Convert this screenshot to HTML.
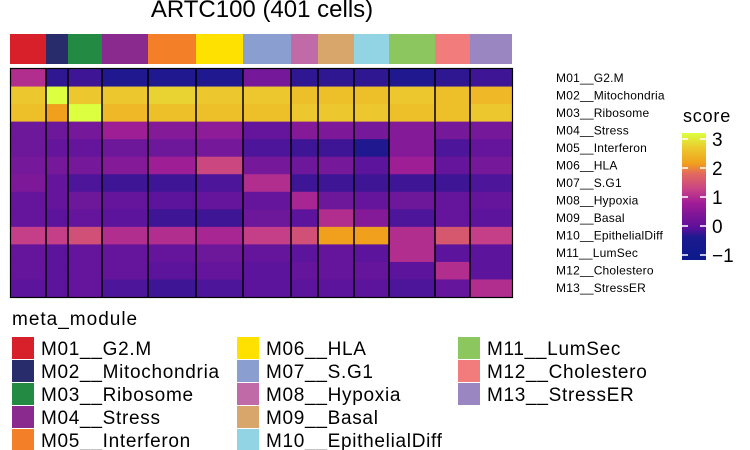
<!DOCTYPE html>
<html><head><meta charset="utf-8"><style>
body{margin:0;background:#fff;width:750px;height:450px;overflow:hidden;font-family:"Liberation Sans",sans-serif}
svg{display:block}
</style></head><body>
<svg id="c" width="750" height="450" xmlns="http://www.w3.org/2000/svg">
<defs><linearGradient id="cbg" x1="0" y1="1" x2="0" y2="0">
<stop offset="0" stop-color="#0b1a8c"/><stop offset="0.18" stop-color="#1c1a8e"/><stop offset="0.25" stop-color="#5a0f9a"/>
<stop offset="0.45" stop-color="#a11c96"/><stop offset="0.55" stop-color="#c64088"/><stop offset="0.68" stop-color="#e26a5e"/>
<stop offset="0.76" stop-color="#f0a01c"/><stop offset="0.88" stop-color="#ecc82e"/><stop offset="1" stop-color="#dcff40"/></linearGradient></defs>
<text x="262" y="17" text-anchor="middle" font-size="24">ARTC100 (401 cells)</text>
<g id="ann"></g><g id="hm"></g><g id="lab"></g>
<text x="683" y="122" font-size="18" letter-spacing="0.8">score</text>
<rect x="682" y="133" width="24" height="127" fill="url(#cbg)"/>
<g id="cb"></g>
<text x="12" y="325" font-size="19" letter-spacing="1">meta_module</text>
<g id="leg"></g>
</svg>
<script>
const modules=["M01__G2.M","M02__Mitochondria","M03__Ribosome","M04__Stress","M05__Interferon","M06__HLA","M07__S.G1","M08__Hypoxia","M09__Basal","M10__EpithelialDiff","M11__LumSec","M12__Cholestero","M13__StressER"];
const groupColors=["#d7202a","#282c6a","#228a42","#8a2a8e","#f38028","#ffe100","#8a9fd0","#c06aa8","#d8a66a","#92d4e4","#8cc65e","#f27c7c","#9a86c0"];
const groupBounds=[10,46,68,102,148,196,243,291,318,354,389,435,470,512];
const values=[
[1.0,-0.3,-0.2,-0.4,-0.4,-0.4,0.3,-0.3,-0.3,-0.3,-0.4,-0.3,-0.2],
[2.5,3.0,2.5,2.5,2.6,2.5,2.5,2.4,2.4,2.4,2.5,2.4,2.3],
[2.4,2.0,3.0,2.3,2.4,2.4,2.4,2.5,2.5,2.5,2.4,2.4,2.5],
[0.2,0.2,0.3,0.8,0.5,0.6,0.1,0.5,0.4,0.3,0.5,0.3,0.3],
[0.2,0.1,0.1,0.2,0.2,0.3,-0.1,-0.2,-0.2,-0.4,0.5,-0.1,0.1],
[0.3,0.3,0.3,0.5,0.8,1.3,0.3,0.2,0.3,0.0,0.8,0.1,0.3],
[0.4,0.1,-0.1,-0.2,-0.2,-0.1,1.0,-0.2,-0.2,-0.2,-0.2,-0.2,-0.1],
[0.1,0.1,0.2,0.1,0.0,0.1,0.1,0.9,0.2,0.1,0.2,0.1,0.1],
[0.1,0.0,0.1,0.0,-0.2,-0.2,0.2,0.0,1.0,0.5,-0.1,0.1,0.0],
[1.2,1.2,1.4,1.0,1.0,0.9,1.2,1.4,2.0,2.0,1.0,1.5,1.2],
[0.1,0.0,0.1,0.1,0.1,0.2,0.1,0.0,0.1,0.0,1.0,0.0,0.0],
[0.1,0.0,0.1,0.1,0.0,0.1,0.0,0.1,0.1,0.1,0.0,1.0,0.0],
[0.0,0.0,0.1,-0.1,-0.2,-0.1,0.0,0.0,0.0,0.0,-0.1,0.1,1.0]];
const ticks=[3,2,1,0,-1];
const NS="http://www.w3.org/2000/svg";
function el(t,a,p){const e=document.createElementNS(NS,t);for(const k in a)e.setAttribute(k,a[k]);p.appendChild(e);return e;}
const stops=[[-1,[11,26,140]],[-0.4,[32,24,142]],[0,[92,20,156]],[0.8,[158,30,150]],[1.2,[196,62,136]],[1.7,[226,106,94]],[2,[240,160,28]],[2.5,[236,200,46]],[3,[220,255,64]]];
function color(v){v=Math.max(-1,Math.min(3,v));for(let i=1;i<stops.length;i++){if(v<=stops[i][0]){const a=stops[i-1],b=stops[i],t=(v-a[0])/(b[0]-a[0]);return "rgb("+a[1].map((c,j)=>Math.round(c+(b[1][j]-c)*t)).join(",")+")";}}return "rgb(220,255,64)";}
const top0=69,bot=297,rh=(bot-top0)/modules.length;
const yRow=i=>top0+i*rh;
const ann=document.getElementById('ann'),hm=document.getElementById('hm'),lab=document.getElementById('lab');
groupColors.forEach((c,g)=>{
 const r=el('rect',{x:groupBounds[g],y:34,width:groupBounds[g+1]-groupBounds[g],height:30,fill:c},ann);
 
 
});
values.forEach((row,i)=>row.forEach((v,g)=>{
 const r=el('rect',{x:groupBounds[g],y:yRow(i),width:groupBounds[g+1]-groupBounds[g]+0.5,height:rh+0.5,fill:color(v)},hm);
 
 
}));
groupBounds.slice(1,-1).forEach(x=>{el('line',{x1:x,x2:x,y1:top0,y2:bot,stroke:'#000','stroke-width':1.5},hm);});
el('rect',{x:10.5,y:top0-0.5,width:502,height:bot-top0+1,fill:'none',stroke:'#000','stroke-width':1.2},hm);
modules.forEach((m,i)=>{
 const t=el('text',{x:556,y:yRow(i)+rh/2+4,'font-size':12,'letter-spacing':0.2},lab);t.textContent=m;
 
 
});
const cb=document.getElementById('cb');
const yTick=v=>139+(3-v)*29;
ticks.forEach(v=>{
 el('line',{x1:682,x2:688,y1:yTick(v),y2:yTick(v),stroke:'#fff','stroke-width':1.5},cb);
 el('line',{x1:700,x2:706,y1:yTick(v),y2:yTick(v),stroke:'#fff','stroke-width':1.5},cb);
 const t=el('text',{x:712,y:yTick(v)+7,'font-size':19},cb);t.textContent=v<0?'\u2212'+(-v):String(v);
 
 
});
const leg=document.getElementById('leg');
const lx=[12,237,458];
modules.forEach((m,i)=>{
 const c=Math.floor(i/5),r=i%5,y=337+r*23;
 const g=el('g',{},leg);
 
 
 el('rect',{x:lx[c],y:y,width:22,height:22,fill:groupColors[i]},g);
 const t=el('text',{x:lx[c]+29,y:y+18,'font-size':19,'letter-spacing':0.7},g);t.textContent=m;
});
</script>
</body></html>
